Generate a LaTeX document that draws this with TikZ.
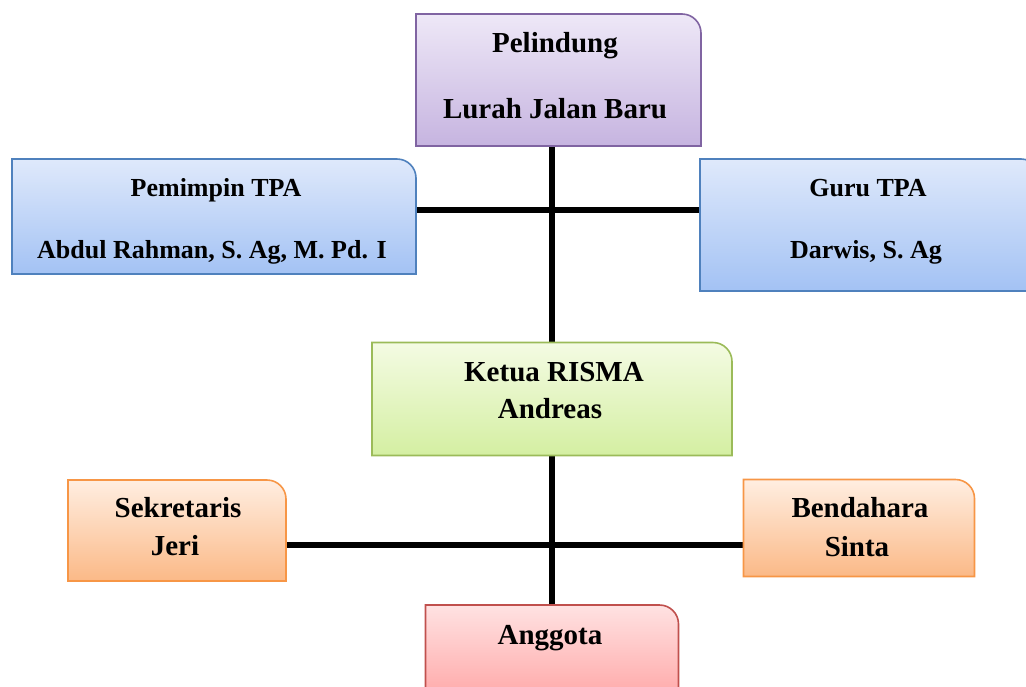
\documentclass[tikz,border=0pt]{standalone}
\usepackage{fontspec}
\setmainfont{Liberation Serif}
\definecolor{purD}{HTML}{8064A2}\definecolor{purT}{HTML}{EEE8F7}\definecolor{purB}{HTML}{C6B4E0}
\definecolor{bluD}{HTML}{4F81BD}\definecolor{bluT}{HTML}{DFE9FB}\definecolor{bluB}{HTML}{A3C2F4}
\definecolor{greD}{HTML}{9BBB59}\definecolor{greT}{HTML}{F4FBE3}\definecolor{greB}{HTML}{D4EFA2}
\definecolor{oraD}{HTML}{F79646}\definecolor{oraT}{HTML}{FFEEE1}\definecolor{oraB}{HTML}{FBB987}
\definecolor{redD}{HTML}{C0504D}\definecolor{redT}{HTML}{FFE2E2}\definecolor{redB}{HTML}{FF9E9E}
% corner-rounded box drawn around a named node
\newcommand\orgbox[4]{%
  \draw[line width=1.6pt,draw=#2,top color=#3,bottom color=#4]
    (#1.south west) -- (#1.north west) -- ([xshift=-19pt]#1.north east)
    arc[start angle=90,end angle=0,radius=19pt] -- (#1.south east) -- cycle;}
\begin{document}
\begin{tikzpicture}[x=1pt,y=-1pt,
  slot/.style={inner sep=0pt,outer sep=0pt,draw=none},
  big/.style={font=\fontsize{29}{32}\selectfont\bfseries,anchor=base,inner sep=0pt},
  mid/.style={font=\fontsize{26}{29}\selectfont\bfseries,anchor=base,inner sep=0pt},
  link/.style={line width=6.5pt,black}]
\useasboundingbox (0,0) rectangle (1026,686);
\clip (0,0) rectangle (1026,686);
% box slots
\node[slot,minimum width=285pt,minimum height=132pt] (pel) at (558.5,80) {};
\node[slot,minimum width=404pt,minimum height=115pt] (pem) at (214,216.5) {};
\node[slot,minimum width=340pt,minimum height=132pt] (guru) at (870,225) {};
\node[slot,minimum width=360pt,minimum height=113pt] (ket) at (552,399) {};
\node[slot,minimum width=218pt,minimum height=101pt] (sek) at (177,530.5) {};
\node[slot,minimum width=231pt,minimum height=97pt] (ben) at (859,528) {};
\node[slot,minimum width=253pt,minimum height=110pt] (ang) at (552,660) {};
% connectors
\coordinate (top) at (pel.south -| 552,0);
\coordinate (mid1) at (552,209.5);
\draw[link] (552,0 |- pel.south) -- (552,0 |- ket.north);
\draw[link,line width=6pt] (pem.east |- mid1) -- (guru.west |- mid1);
\coordinate (mid2) at (552,545);
\draw[link,line width=5.5pt] (552,0 |- ket.south) -- (552,0 |- ang.north);
\draw[link,line width=5.5pt] (sek.east |- mid2) -- (ben.west |- mid2);
% boxes
\orgbox{pel}{purD}{purT}{purB}
\orgbox{pem}{bluD}{bluT}{bluB}
\orgbox{guru}{bluD}{bluT}{bluB}
\orgbox{ket}{greD}{greT}{greB}
\orgbox{sek}{oraD}{oraT}{oraB}
\orgbox{ben}{oraD}{oraT}{oraB}
\orgbox{ang}{redD}{redT}{redB}
% texts
\node[big] (pelA) at (555,52) {Pelindung};
\node[big] (pelB) at (555,118) {Lurah Jalan Baru};
\node[mid] (pemA) at (216,196) {Pemimpin TPA};
\node[mid] (pemB) at (212,258) {Abdul Rahman, S. Ag, M. Pd. I};
\node[mid] (guruA) at (868,196) {Guru TPA};
\node[mid] (guruB) at (866,258) {Darwis, S. Ag};
\node[big] (ketA) at (554,381) {Ketua RISMA};
\node[big] (ketB) at (550,418) {Andreas};
\node[big] (sekA) at (178,517) {Sekretaris};
\node[big] (sekB) at (175,555) {Jeri};
\node[big] (benA) at (860,517) {Bendahara};
\node[big] (benB) at (857,556) {Sinta};
\node[big] (angA) at (550,644) {Anggota};
\end{tikzpicture}
\end{document}
